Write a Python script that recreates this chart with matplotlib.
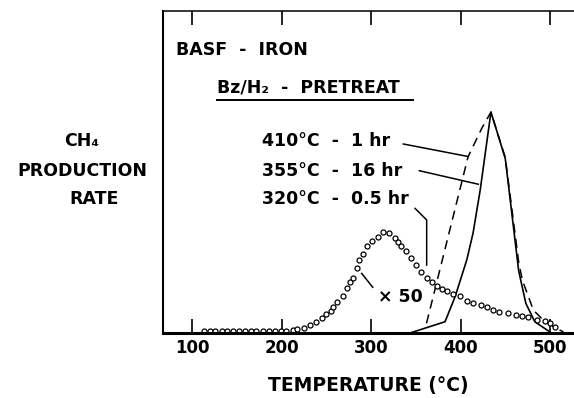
import matplotlib
matplotlib.use("Agg")
import matplotlib.pyplot as plt
from matplotlib.lines import Line2D

# dotted curve (x 50), read circle by circle
dot_T = [113, 120, 126, 133, 139, 146, 153, 159, 166, 172, 179, 186, 193, 199, 205,
         212.5, 217.7, 225, 232, 238.5, 245, 250, 255, 258, 262.3, 268.4, 273.5,
         276.5, 279.6, 284, 287, 290.7, 296, 301.5, 307.5, 313.7, 320, 326.8,
         330, 333.5, 338.8, 344.7, 350, 356, 362.2, 367.8, 373.4, 379.7, 385.3,
         392, 399.4, 406.9, 414.3, 422.6, 429.3, 436.6, 443.4, 453.4, 462,
         468.4, 475.8, 485.1, 494.4, 500, 505.6]
dot_y = [0.6, 0.6, 0.6, 0.6, 0.6, 0.6, 0.6, 0.6, 0.6, 0.6, 0.6, 0.6, 0.6, 0.6, 0.7,
         0.9, 1.2, 1.6, 2.5, 3.3, 4.8, 5.8, 6.8, 8.2, 9.5, 11.6, 14.1,
         15.7, 17.2, 20.3, 22.7, 24.4, 27.1, 28.6, 29.9, 31.3, 31.0, 29.6,
         28.2, 27.1, 25.5, 23.2, 21.1, 19.0, 17.0, 15.7, 14.7, 13.7, 13.1,
         12.1, 11.5, 10.0, 9.2, 8.7, 8.0, 7.1, 6.6, 6.1, 5.6,
         5.3, 4.9, 4.0, 3.8, 3.0, 2.0]

# solid curve
sol_T = [343.6, 382.7, 394, 407, 414, 422, 434, 450, 465, 473, 483, 500]
sol_y = [0, 3.5, 11.3, 22.7, 31, 44.4, 68.6, 54.2, 19.3, 9.2, 3.5, 0.3]

# dashed curve
das_T = [362, 408.4, 424, 434, 450, 465, 469, 481.4, 492.5, 503.7, 515]
das_y = [3, 54.7, 63.7, 68.6, 54.5, 22, 16.5, 7.1, 4, 2, 0.3]

xticks = [100, 200, 300, 400, 500]

W, H = 574, 398
fig = plt.figure(figsize=(W / 100, H / 100), dpi=100)
ax = fig.add_axes([163 / W, (H - 333) / H, (W - 163) / W, (333 - 11) / H])


def fpos(x, y):
    return x / W, 1 - y / H


ax.plot(sol_T, sol_y, color="black", lw=1.2)
ax.plot(das_T, das_y, color="black", lw=1.1, dashes=(6, 4))
ax.plot(dot_T, dot_y, ls="none", marker="o", ms=3.6, mfc="white",
        mec="black", mew=0.9)

ax.set_xlim(67.6, 526.8)
ax.set_ylim(0, 100)
ax.set_xticks(xticks)
ax.set_xticklabels([str(t) for t in xticks], fontsize=12, fontweight="bold")
ax.set_yticks([])
ax.tick_params(axis="x", direction="in", top=True, length=10, width=1.2, pad=4)
ax.spines["right"].set_visible(False)
ax.spines["top"].set_linewidth(1.1)
ax.spines["left"].set_linewidth(1.5)
ax.spines["bottom"].set_linewidth(2.2)

# leader lines
ax.plot([336.1, 408.7], [58.7, 54.8], color="black", lw=1.1)
ax.plot([354.0, 419.9], [50.4, 46.2], color="black", lw=1.1)
ax.plot([349.2, 362.2, 362.2], [38.7, 35.1, 21.1], color="black", lw=1.1)
ax.plot([289.6, 301.9], [18.5, 14.2], color="black", lw=1.1)

bold = dict(fontweight="bold", va="center")
fig.text(*fpos(176, 50), "BASF  -  IRON", fontsize=12.5, ha="left", **bold)
fig.text(*fpos(217, 88), "Bz/H₂  -  PRETREAT", fontsize=12.5, ha="left", **bold)
fig.add_artist(Line2D([217 / W, 413 / W], [1 - 100 / H, 1 - 100 / H],
                      color="black", lw=1.4))
fig.text(*fpos(262, 141), "410°C  -  1 hr", fontsize=12.5, ha="left", **bold)
fig.text(*fpos(262, 171), "355°C  -  16 hr", fontsize=12.5, ha="left", **bold)
fig.text(*fpos(262, 199), "320°C  -  0.5 hr", fontsize=12.5, ha="left", **bold)
fig.text(*fpos(378, 297), "× 50", fontsize=12.5, ha="left", **bold)

fig.text(*fpos(82, 141), "CH₄", fontsize=12.5, ha="center", **bold)
fig.text(*fpos(82, 171), "PRODUCTION", fontsize=12.5, ha="center", **bold)
fig.text(*fpos(94, 199), "RATE", fontsize=12.5, ha="center", **bold)

fig.text(*fpos(368, 385), "TEMPERATURE (°C)", fontsize=13.5, ha="center", **bold)

plt.savefig("out.png", dpi=100)
